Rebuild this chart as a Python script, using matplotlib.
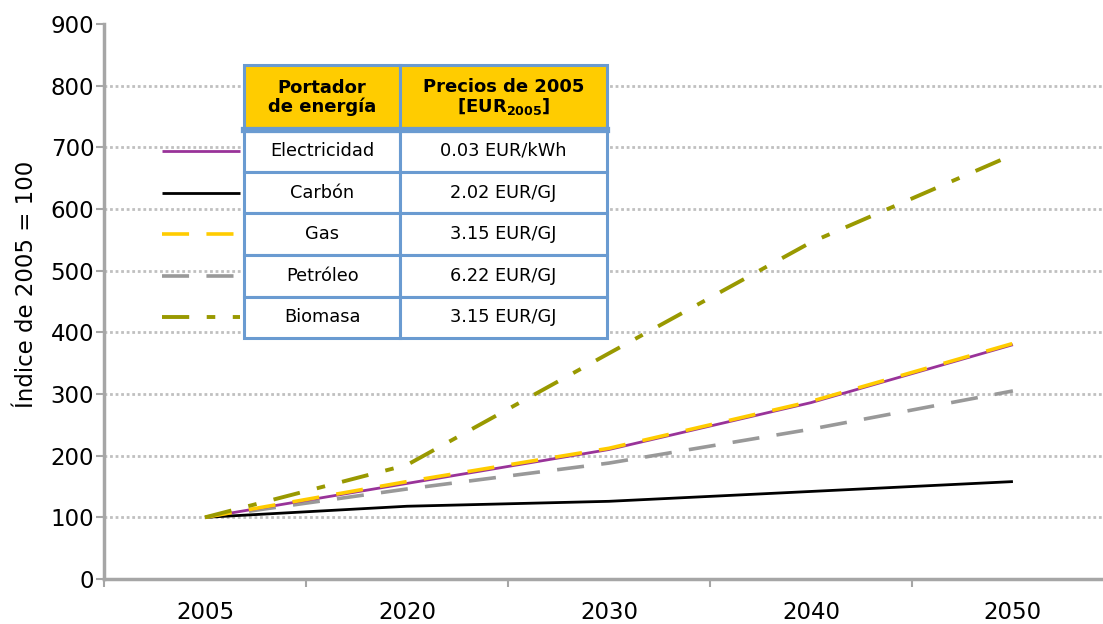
import matplotlib
matplotlib.use("Agg")
import matplotlib.pyplot as plt
from matplotlib.lines import Line2D

# Datos (índice 2005 = 100)
anios = ['2005', '2020', '2030', '2040', '2050']
electricidad = [100, 155, 210, 286, 380]
carbon = [100, 118, 126, 142, 158]
gas = [100, 158, 212, 288, 382]
petroleo = [100, 146, 188, 243, 305]
biomasa = [100, 185, 366, 546, 688]

portadores = ['Electricidad', 'Carbón', 'Gas', 'Petróleo', 'Biomasa']
precios = ['0.03 EUR/kWh', '2.02 EUR/GJ', '3.15 EUR/GJ', '6.22 EUR/GJ', '3.15 EUR/GJ']
encabezado = ['Portador\nde energía', 'Precios de 2005\n[EUR$_{\\mathbf{2005}}$]']

# Estilos de cada serie
estilos = [
    dict(color='#993399', lw=2.0, ls='-'),
    dict(color='black', lw=2.0, ls='-'),
    dict(color='#FFCC00', lw=2.6, ls=(0, (7.5, 4.8))),
    dict(color='#999999', lw=2.6, ls=(0, (7.5, 4.8))),
    dict(color='#999900', lw=2.8, ls=(0, (7.0, 4.5, 2.2, 4.5))),
]
series = [electricidad, carbon, gas, petroleo, biomasa]
orden_dibujo = [3, 1, 0, 2, 4]

GRIS_EJE = '#A6A6A6'
AZUL_TABLA = '#6A9BD1'

plt.rcParams['font.family'] = 'DejaVu Sans'

fig = plt.figure(figsize=(11.03, 6.24), dpi=100)
ax = fig.add_axes([0.0943, 0.0721, 0.9057, 0.8894])

x = list(range(len(anios)))
for i in orden_dibujo:
    st = estilos[i]
    ax.plot(x, series[i], color=st['color'], lw=st['lw'], linestyle=st['ls'],
            solid_capstyle='butt', dash_capstyle='butt', zorder=3)

ax.set_xlim(-0.5, 4.446)
ax.set_ylim(0, 900)
ax.set_yticks(range(0, 901, 100))
ax.tick_params(axis='y', labelsize=16.5, length=6, width=1.5, color=GRIS_EJE, pad=1)

# ticks del eje x entre categorías, etiquetas en el centro
ax.set_xticks([i - 0.5 for i in range(len(anios))])
ax.set_xticklabels([])
ax.set_xticks(x, minor=True)
ax.set_xticklabels(anios, minor=True)
ax.tick_params(axis='x', which='major', length=6, width=1.5, color=GRIS_EJE)
ax.tick_params(axis='x', which='minor', length=0, labelsize=16.5, pad=16)

for s in ['top', 'right']:
    ax.spines[s].set_visible(False)
for s in ['left', 'bottom']:
    ax.spines[s].set_color(GRIS_EJE)
    ax.spines[s].set_linewidth(2.5)

ax.grid(axis='y', color='#C0C0C0', linestyle=(0, (1, 1)), linewidth=2.0, zorder=0)
ax.yaxis.get_gridlines()[-1].set_visible(False)
ax.set_axisbelow(True)

ax.set_ylabel('Índice de 2005 = 100', fontsize=16.5)
ax.yaxis.set_label_coords(-0.066, 0.53)

# Tabla con portadores y precios
tx, ty, tw, th = 0.140, 0.434, 0.363, 0.492
h_enc = 65 / 273
h_fila = (1 - h_enc) / len(portadores)
tabla = ax.table(cellText=[[p, q] for p, q in zip(portadores, precios)],
                 colLabels=encabezado, cellLoc='center', loc='center',
                 bbox=[tx, ty, tw, th], zorder=5)
tabla.auto_set_font_size(False)
for (r, c), cell in tabla.get_celld().items():
    cell.set_edgecolor(AZUL_TABLA)
    cell.set_linewidth(2.2)
    cell.set_width(157 if c == 0 else 207)
    if r == 0:
        cell.set_height(h_enc)
        cell.set_facecolor('#FFCC00')
        cell.get_text().set_fontweight('bold')
        cell.get_text().set_fontsize(13)
        cell.get_text().set_linespacing(1.0)
    else:
        cell.set_height(h_fila)
        cell.set_facecolor('white')
        cell.get_text().set_fontsize(12.8)

# línea más gruesa bajo el encabezado
y_enc = ty + th * (1 - h_enc)
ax.add_line(Line2D([tx, tx + tw], [y_enc, y_enc], transform=ax.transAxes,
                   color=AZUL_TABLA, lw=4.5, zorder=6))

# muestras de línea a la izquierda de la tabla
for i, st in enumerate(estilos):
    yc = ty + th * (1 - h_enc - (i + 0.5) * h_fila)
    ax.add_line(Line2D([0.058, 0.136], [yc, yc], transform=ax.transAxes,
                       color=st['color'], lw=st['lw'], linestyle=st['ls'],
                       solid_capstyle='butt', dash_capstyle='butt',
                       clip_on=False, zorder=4))

fig.savefig('out.png', dpi=100)
